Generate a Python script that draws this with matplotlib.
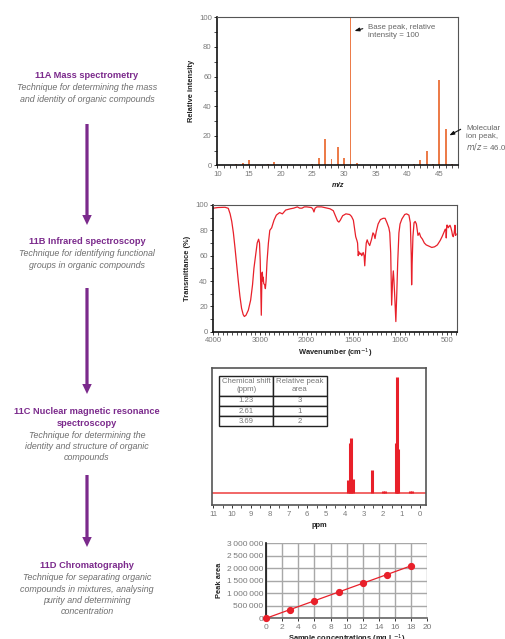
import numpy as np
import matplotlib.pyplot as plt
from matplotlib.patches import FancyArrow
from matplotlib.ticker import FixedLocator, MultipleLocator, FuncFormatter

plt.rcParams['font.family'] = ['Liberation Sans', 'DejaVu Sans']
NARROW = ['Liberation Sans Narrow', 'Liberation Sans', 'DejaVu Sans']

purple = '#7b2a8c'
grey = '#7a7a7a'
red = '#e8202a'

# ---- data ----
ms_mz = [13, 14, 15, 18, 19, 25, 26, 27, 28, 29, 30, 31, 32, 41, 42, 43, 44, 45, 46, 47]
ms_int = [1, 1.6, 3.6, 0.8, 2.5, 1, 5.2, 17.8, 4.5, 12.2, 5, 100, 1.6, 1, 3.6, 9.9, 1, 57.7, 24.5, 1]

ir_wn = [4000, 3900, 3750, 3680, 3640, 3605, 3570, 3535, 3500, 3465, 3430, 3395, 3360, 3335,
         3300, 3250, 3200, 3160, 3130, 3095, 3060, 3030, 3010, 2995, 2980, 2972, 2965, 2958,
         2950, 2940, 2930, 2920, 2900, 2885, 2870, 2850, 2820, 2790, 2750, 2700, 2650, 2580,
         2520, 2450, 2350, 2280, 2200, 2150, 2100, 2050, 2000, 1950, 1935, 1922, 1910, 1890,
         1840, 1780, 1750, 1715, 1690, 1670, 1655, 1640, 1615, 1580, 1540, 1520, 1500, 1485,
         1475, 1462, 1455, 1448, 1440, 1430, 1420, 1410, 1395, 1385, 1378, 1370, 1362, 1352,
         1340, 1325, 1305, 1290, 1280, 1268, 1255, 1235, 1210, 1180, 1160, 1140, 1120, 1110,
         1100, 1090, 1080, 1072, 1065, 1055, 1045, 1035, 1025, 1012, 1000, 980, 950, 930,
         905, 890, 880, 876, 870, 862, 850, 838, 825, 815, 808, 800, 793, 780, 760, 740,
         720, 690, 660, 630, 600, 570, 550, 530, 515, 508, 505, 500, 492, 485, 475, 465,
         455, 445, 438, 430, 420, 412, 405, 400]
ir_t = [97.5, 98, 98.2, 97.4, 93, 87, 78, 66, 53, 40, 28, 18.5, 13.5, 12,
        13, 17, 25, 37, 50, 60, 70, 73, 70, 56, 30, 13, 30, 46,
        47, 40, 43, 38, 37, 34, 40, 55, 70, 80, 82, 88, 92, 94,
        93, 96, 97, 97.5, 98.5, 97.5, 97.5, 98.5, 98.5, 98, 97, 94.5, 97.5, 98.5,
        98.5, 97.5, 97, 95.5, 91, 87.5, 86.5, 88, 91.5, 93, 92.5, 91, 88, 80,
        75, 72, 70, 60, 63, 61, 62, 60, 62.5, 60, 52, 62, 70, 72.5,
        70, 68, 73, 78, 77, 73.5, 79, 85, 88.5, 89.5, 89.5, 86, 82, 78,
        62, 21, 40, 48, 40, 25, 8, 30, 55, 78, 85, 89, 92.5, 93,
        92, 86, 60, 37, 55, 75, 86, 87, 85, 80, 76, 77, 78, 75, 73, 70,
        68.5, 67.5, 66.5, 67, 68.5, 72, 75, 78.5, 81, 80, 74, 84, 84, 82, 83, 84,
        82, 79, 76, 75, 78, 84, 76, 77]

nmr_ppm = [3.81, 3.74, 3.67, 3.59, 2.58, 1.30, 1.23, 1.16, 1.95, 1.85, 0.55, 0.45]
nmr_int = [10, 40, 44, 11, 18, 40, 93, 35, 1, 1, 1, 1]
nmr_shift = ['1.23', '2.61', '3.69']
nmr_area = ['3', '1', '2']

chrom_conc = [0, 3, 6, 9, 12, 15, 18]
chrom_area = [0, 350000, 700000, 1050000, 1400000, 1750000, 2100000]

steps = [
    (['11A Mass spectrometry'],
     'Technique for determining the mass\nand identity of organic compounds', 76),
    (['11B Infrared spectroscopy'],
     'Technique for identifying functional\ngroups in organic compounds', 242),
    (['11C Nuclear magnetic resonance', 'spectroscopy'],
     'Technique for determining the\nidentity and structure of organic\ncompounds', 411),
    (['11D Chromatography'],
     'Technique for separating organic\ncompounds in mixtures, analysing\npurity and determining\nconcentration', 566),
]
arrow_spans = [(124, 225), (288, 394), (475, 547)]

W, H = 505, 639
fig = plt.figure(figsize=(W / 100, H / 100), dpi=100)

bg = fig.add_axes([0, 0, 1, 1])
bg.set_xlim(0, W)
bg.set_ylim(H, 0)
bg.axis('off')

for lines, sub, y in steps:
    for i, line in enumerate(lines):
        bg.text(87, y + 12.6 * i, line, ha='center', va='center', color=purple, fontsize=6.7,
                fontweight='bold', family=NARROW)
    bg.text(87, y + 12.6 * (len(lines) - 1) + 7.5, sub, ha='center', va='top', color='#6e6e6e',
            fontsize=6.4, style='italic', linespacing=1.3)

for y0, y1 in arrow_spans:
    bg.add_patch(FancyArrow(87, y0, 0, y1 - y0, width=3.2, head_width=9.5, head_length=10,
                            length_includes_head=True, color=purple, lw=0))


def style_axes(ax):
    ax.tick_params(labelsize=5.6, labelcolor=grey, color='#333', width=0.7, length=2.5, pad=1.5)
    ax.tick_params(which='minor', color='#333', width=0.6, length=2)
    for s in ax.spines.values():
        s.set_color('#555')
        s.set_linewidth(0.8)
    ax.spines['left'].set_color('#111')
    ax.spines['bottom'].set_color('#111')
    ax.spines['left'].set_linewidth(1.2)
    ax.spines['bottom'].set_linewidth(1.2)


def label_font(size=5.4):
    return dict(fontsize=size, fontweight='bold', family=NARROW, color='#222')


arrow_kw = dict(arrowstyle='-|>,head_width=0.18,head_length=0.5', color='#111', lw=0.8)

# ---- 11A mass spectrum ----
ax1 = fig.add_axes([0.4303, 0.7413, 0.4772, 0.2316])
ax1.bar(ms_mz, ms_int, width=0.3, color='#ec7c4a')
ax1.set_xlim(10, 48)
ax1.set_ylim(0, 100)
ax1.xaxis.set_major_locator(MultipleLocator(5))
ax1.xaxis.set_minor_locator(MultipleLocator(1))
ax1.yaxis.set_major_locator(MultipleLocator(20))
ax1.yaxis.set_minor_locator(MultipleLocator(10))
style_axes(ax1)
ax1.set_ylabel('Relative intensity', labelpad=3, **label_font())
ax1.set_xlabel('m/z', labelpad=3, style='italic', **label_font())
ax1.annotate('Base peak, relative\nintensity = 100', xy=(31.2, 90.3), xytext=(33.8, 90.3),
             fontsize=5.7, color='#666', va='center', ha='left', linespacing=1.2,
             arrowprops=dict(relpos=(0, 0.8), **arrow_kw), annotation_clip=False)
ax1.annotate('Molecular\nion peak,\n$m/z$ = 46.0', xy=(46.2, 19.3), xytext=(49.2, 18.2),
             fontsize=5.7, color='#666', va='center', ha='left', linespacing=1.2,
             arrowprops=dict(relpos=(0, 0.93), **arrow_kw), annotation_clip=False)


# ---- 11B infrared spectrum (split scale at 2000 cm-1) ----
def fwd(w):
    w = np.asarray(w, float)
    return np.where(w >= 2000, w, 2 * w - 2000)


def inv(u):
    u = np.asarray(u, float)
    return np.where(u >= 2000, u, (u + 2000) / 2)


ax2 = fig.add_axes([0.4224, 0.4809, 0.482, 0.1983])
ax2.set_xscale('function', functions=(fwd, inv))
ax2.plot(ir_wn, ir_t, color=red, lw=0.9)
ax2.set_xlim(4000, 393)
ax2.set_ylim(0, 100)
ax2.xaxis.set_major_locator(FixedLocator([4000, 3000, 2000, 1500, 1000, 500]))
ax2.xaxis.set_minor_locator(FixedLocator(list(range(4000, 2000, -100)) + list(range(2000, 399, -50))))
ax2.xaxis.set_major_formatter(FuncFormatter(lambda v, p: '%d' % round(v)))
ax2.xaxis.set_minor_formatter(FuncFormatter(lambda v, p: ''))
ax2.yaxis.set_major_locator(MultipleLocator(20))
ax2.yaxis.set_minor_locator(MultipleLocator(10))
style_axes(ax2)
ax2.set_ylabel('Transmittance (%)', labelpad=3, **label_font())
ax2.set_xlabel('Wavenumber (cm$^{-1}$)', labelpad=2, **label_font())

# ---- 11C NMR spectrum ----
ax3 = fig.add_axes([0.4204, 0.2097, 0.4232, 0.2139])
ax3.axhline(0, color='#f05a5a', lw=1.3)
ax3.vlines(nmr_ppm, 0, nmr_int, color=red, lw=2.2)
ax3.set_xlim(11.05, -0.32)
ax3.set_ylim(-10, 100)
ax3.xaxis.set_major_locator(MultipleLocator(1))
ax3.xaxis.set_minor_locator(MultipleLocator(0.5))
ax3.set_yticks([])
style_axes(ax3)
for s in ax3.spines.values():
    s.set_color('#555')
    s.set_linewidth(1.2)
ax3.set_xlabel('ppm', labelpad=3, **label_font())

tbl = ax3.table(cellText=[[a, b] for a, b in zip(nmr_shift, nmr_area)],
                colLabels=['Chemical shift\n(ppm)', 'Relative peak\narea'],
                cellLoc='center', bbox=[0.033, 0.576, 0.503, 0.37])
tbl.auto_set_font_size(False)
for (r, c), cell in tbl.get_celld().items():
    cell.set_edgecolor('#222')
    cell.set_linewidth(1.0)
    cell.get_text().set_fontsize(5.6)
    cell.get_text().set_color('#777')
    if r == 0:
        cell.set_height(cell.get_height() * 2)

# ---- 11D chromatography calibration ----
ax4 = fig.add_axes([0.5267, 0.0324, 0.3194, 0.1174])
ax4.plot(chrom_conc, chrom_area, color=red, lw=0.9, marker='o', ms=4.2, mfc=red, mec=red,
         clip_on=False, zorder=3)
ax4.set_xlim(0, 20)
ax4.set_ylim(0, 3000000)
ax4.xaxis.set_major_locator(MultipleLocator(2))
ax4.yaxis.set_major_locator(MultipleLocator(500000))
ax4.yaxis.set_major_formatter(FuncFormatter(lambda v, p: '{:,d}'.format(int(v)).replace(',', '\u2009')))
ax4.grid(True, color='#a8a8a8', lw=1.0)
style_axes(ax4)
ax4.tick_params(labelsize=6)
ax4.spines['top'].set_visible(False)
ax4.spines['right'].set_visible(False)
ax4.spines['bottom'].set_color('#666')
ax4.tick_params(axis='y', length=0, pad=2)
ax4.set_ylabel('Peak area', labelpad=3, **label_font())
ax4.set_xlabel('Sample concentrations (mg L$^{-1}$)', labelpad=1.5, **label_font())

plt.savefig('out.png', dpi=100)
